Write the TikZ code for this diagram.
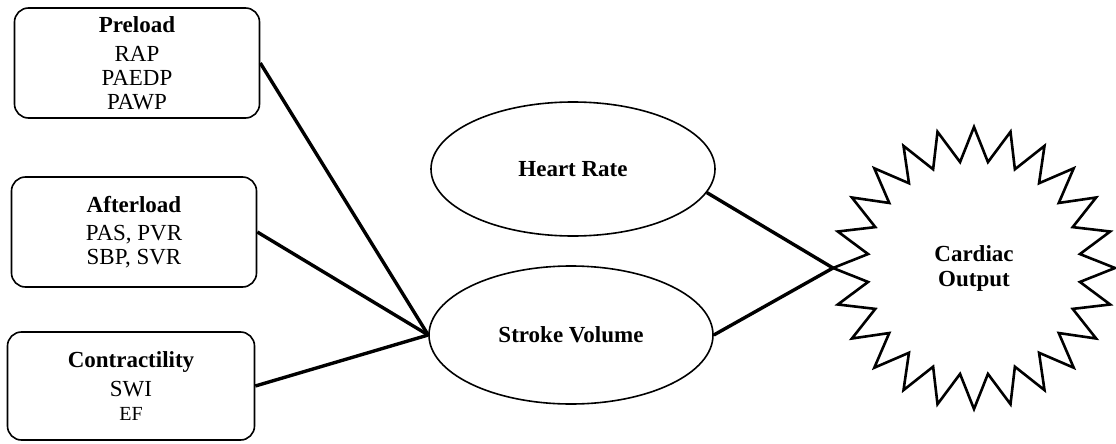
\documentclass[tikz,border=0pt]{standalone}
\usepackage{fontspec}
\setmainfont{Liberation Serif}
\usetikzlibrary{shapes.geometric}
\begin{document}
\begin{tikzpicture}[x=1pt,y=-1pt,
    every node/.style={font=\fontsize{23}{24}\selectfont},
    factor/.style={draw,line width=1.6pt,rounded corners=14pt,align=center,minimum width=245pt,minimum height=110pt,inner sep=0pt},
    oval/.style={ellipse,draw,line width=1.6pt,minimum width=284pt,minimum height=134pt,inner sep=0pt,font=\fontsize{23}{25}\selectfont\bfseries},
    link/.style={line width=3.4pt}]
  \useasboundingbox (0,0) rectangle (1116,444);
  \node[factor] (pre) at (137,63) {\textbf{Preload}\\[5pt]RAP\\PAEDP\\PAWP};
  \node[factor] (aft) at (134,232) {\textbf{Afterload}\\[4pt]PAS, PVR\\SBP, SVR};
  \node[factor,minimum width=247pt,minimum height=108pt] (con) at (131,386) {\textbf{Contractility}\\[5pt]SWI\\{\fontsize{20}{22}\selectfont EF}};
  \node[oval] (hr) at (573,169) {Heart Rate};
  \node[oval,minimum height=138pt] (sv) at (571,335) {Stroke Volume};
  \node[star,star points=24,star point ratio=1.32,minimum size=282pt,inner sep=0pt,outer sep=0pt,draw,line width=2.6pt,align=center,font=\fontsize{23}{25}\selectfont\bfseries] (co) at (974,268) {Cardiac\\Output};
  \draw[link] (pre.east) -- (sv.west);
  \draw[link] (aft.east) -- (sv.west);
  \draw[link] (con.east) -- (sv.west);
  \draw[link] (hr.-10) -- (co.west);
  \draw[link] (sv.east) -- (co.west);
\end{tikzpicture}
\end{document}
